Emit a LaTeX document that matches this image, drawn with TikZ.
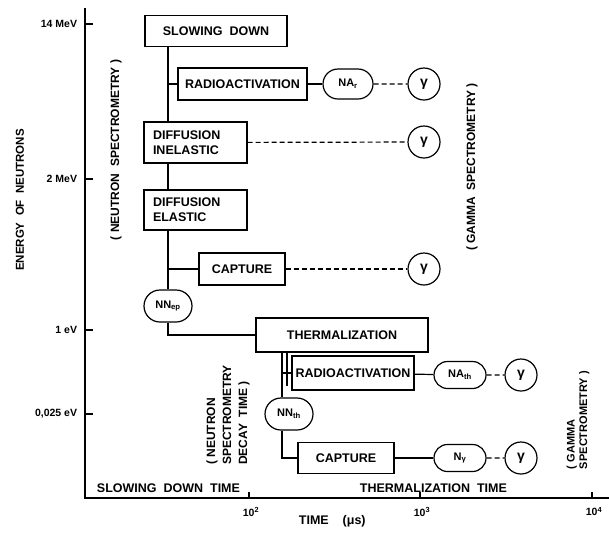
\documentclass[tikz,border=0pt]{standalone}
\usepackage{fontspec}
\setmainfont{Liberation Sans}
\usetikzlibrary{shapes.misc,positioning}

\begin{document}
\begin{tikzpicture}[x=1pt,y=-1pt,line width=1.2pt,
		font=\fontsize{12.5}{15}\selectfont\bfseries,
		procbox/.style={draw,rectangle,inner sep=2pt},
		popbox/.style={draw,rounded rectangle,minimum width=52pt,minimum height=30pt,
			inner sep=1pt,font=\fontsize{11}{12}\selectfont\bfseries},
		gambox/.style={draw,circle,minimum size=32pt,inner sep=0pt,font=\fontsize{14}{15}\selectfont\bfseries},
		emit/.style={dash pattern=on 5pt off 3pt},
		axlabel/.style={font=\fontsize{10.5}{12}\selectfont\bfseries},
		sidelabel/.style={rotate=90,align=left,font=\fontsize{12}{16}\selectfont\bfseries}]
		\useasboundingbox (0,0) rectangle (609,539);
		% axes
		\coordinate (O) at (85,498);
		\coordinate (Ytop) at (85,8);
		\coordinate (Xend) at (609,498);
		\draw (Ytop) -- (O) -- (Xend);
		\foreach \y/\lab in {24/14\ MeV,179/2\ MeV,330/1\ eV,414/{0,025\ eV}}
			\draw (85,\y) -- (93,\y) node[axlabel,anchor=east] at (81,\y) {\lab};
		\foreach \x/\e in {249/2,420/3,592/4}
			\draw (\x,498) -- (\x,492) node[axlabel,anchor=north] at (\x+2,503) {10\textsuperscript{\e}};
		\node[sidelabel,font=\fontsize{11.5}{14}\selectfont\bfseries] (energy) at (20,200) {ENERGY\ \ OF\ \ NEUTRONS};
		\node[anchor=west] (timeax) at (295,521) {TIME\ \ \ \ (μs)};
		\node[anchor=west] (sdtime) at (93,488) {SLOWING\ \ DOWN\ \ TIME};
		\node[anchor=west] (thtime) at (356,488) {THERMALIZATION\ \ TIME};
		\node[sidelabel] (nspec) at (116,150) {(\ NEUTRON\ \ SPECTROMETRY\ )};
		\node[sidelabel] (gspec) at (472,167) {(\ GAMMA\ \ SPECTROMETRY\ )};
		\node[sidelabel] (nspec2) at (228,415) {(\ NEUTRON\\SPECTROMETRY\\DECAY\ \ TIME\ )};
		\node[sidelabel,font=\fontsize{11}{12.5}\selectfont\bfseries] (gspec2) at (578,420) {(\ GAMMA\\SPECTROMETRY\ )};
		% slowing down chain
		\node[procbox,minimum width=142pt,minimum height=31pt] (slow) at (216,31) {SLOWING\ \ DOWN};
		\node[procbox,minimum width=129pt,minimum height=32pt] (ra1) at (242.5,84) {RADIOACTIVATION};
		\node[popbox] (nar) at (348,84) {NA\textsubscript{r}};
		\node[gambox] (g1) at (424,84) {γ};
		\node[procbox,text width=85pt,align=left,inner xsep=9pt,minimum height=41pt] (di) at (195.5,142.5) {DIFFUSION\\INELASTIC};
		\node[gambox] (g2) at (424,142) {γ};
		\node[procbox,text width=85pt,align=left,inner xsep=9pt,minimum height=40pt] (de) at (195.5,210) {DIFFUSION\\ELASTIC};
		\node[procbox,minimum width=86pt,minimum height=32pt] (cap1) at (242,269) {CAPTURE};
		\node[gambox] (g3) at (424,269) {γ};
		\node[popbox,minimum width=50pt,minimum height=32pt] (nnep) at (168,306) {NN\textsubscript{ep}};
		% thermalization chain
		\node[procbox,minimum width=172pt,minimum height=34pt] (therm) at (342,335) {THERMALIZATION};
		\node[procbox,minimum width=122pt,minimum height=34pt] (ra2) at (353,373) {RADIOACTIVATION};
		\node[popbox,minimum width=54pt,minimum height=27pt] (nath) at (460,375) {NA\textsubscript{th}};
		\node[gambox] (g4) at (521,375) {γ};
		\node[popbox,minimum width=50pt,minimum height=32pt] (nnth) at (289,414) {NN\textsubscript{th}};
		\node[procbox,minimum width=96pt,minimum height=31pt] (cap2) at (346,458) {CAPTURE};
		\node[popbox,minimum width=54pt,minimum height=27pt] (ngam) at (460,458) {N\textsubscript{γ}};
		\node[gambox] (g5) at (521,458) {γ};
		\coordinate (thx) at (282,0);
		\coordinate (tb) at (287,386);
		% connectors
		\draw (slow.south -| nnep) -- (di.north -| nnep);
		\draw (di.south -| nnep) -- (de.north -| nnep);
		\draw (de.south -| nnep) -- (nnep.north);
		\draw (ra1.west -| nnep) -- (ra1.west);
		\draw (cap1.west -| nnep) -- (cap1.west);
		\draw (nnep.south) |- (therm.west);
		\draw (ra1) -- (nar);
		\draw[emit] (nar) -- (g1);
		\draw[emit] (di) -- (g2);
		\draw[emit] (cap1) -- (g3);
		\draw (therm.south -| thx) -- (nnth.north -| thx);
		\draw (therm.south -| tb) -- (tb);
		\draw (ra2.west -| thx) -- (ra2.west);
		\draw (nnth.south -| thx) |- (cap2.west);
		\draw (ra2) -- (nath);
		\draw[emit] (nath) -- (g4);
		\draw (cap2) -- (ngam);
		\draw[emit] (ngam) -- (g5);
	\end{tikzpicture}
\end{document}
